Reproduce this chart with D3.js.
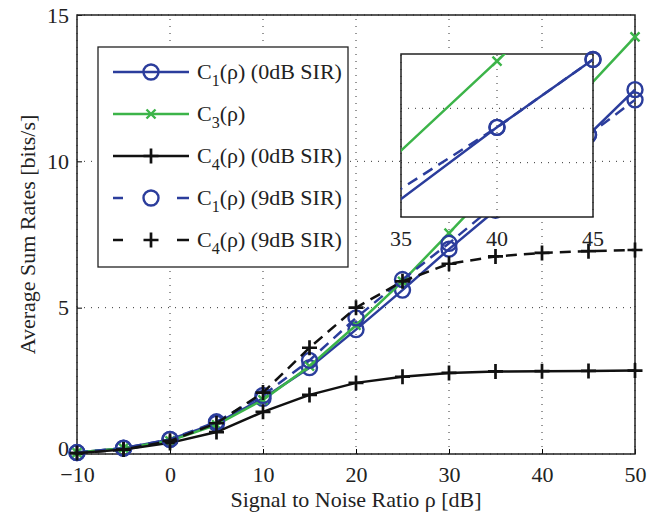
<!DOCTYPE html>
<html>
<head>
<meta charset="utf-8">
<script src="https://cdn.jsdelivr.net/npm/d3@7"></script>
<style>
  body { margin: 0; background: #fff; }
  svg { display: block; }
</style>
</head>
<body>
<script>
// SNR values in dB
const snr = [-10, -5, 0, 5, 10, 15, 20, 25, 30, 35, 40, 45, 50];

// sum rates
const c1_0dB = [0.05, 0.2, 0.5, 1.05, 1.9, 2.95, 4.25, 5.6, 7.0, 8.33, 9.65, 10.9, 12.45];
const c3     = [0.05, 0.2, 0.45, 1.0, 1.85, 3.0, 4.4, 5.9, 7.55, 9.22, 10.87, 12.55, 14.25];
const c4_0dB = [0.03, 0.15, 0.38, 0.75, 1.44, 2.02, 2.43, 2.64, 2.77, 2.82, 2.83, 2.84, 2.85];
const c1_9dB = [0.05, 0.2, 0.5, 1.1, 2.0, 3.2, 4.65, 5.96, 7.2, 8.52, 9.65, 10.9, 12.1];
const c4_9dB = [0.03, 0.15, 0.45, 1.05, 2.1, 3.63, 5.0, 5.9, 6.5, 6.75, 6.87, 6.93, 6.97];

const xTicks = [-10, 0, 10, 20, 30, 40, 50];
const yTicks = [0, 5, 10, 15];
const insetXTicks = [35, 40, 45];
const insetYTicks = [9, 10];

const blue = "#2b3d9c";
const green = "#3cb449";
const black = "#111";

const series = [
  { name: ["C", "1", "(\u03c1) (0dB SIR)"], values: c1_0dB, color: blue, dash: null, marker: "o" },
  { name: ["C", "3", "(\u03c1)"], values: c3, color: green, dash: null, marker: "x" },
  { name: ["C", "4", "(\u03c1) (0dB SIR)"], values: c4_0dB, color: black, dash: null, marker: "+" },
  { name: ["C", "1", "(\u03c1) (9dB SIR)"], values: c1_9dB, color: blue, dash: "11,7", marker: "o" },
  { name: ["C", "4", "(\u03c1) (9dB SIR)"], values: c4_9dB, color: black, dash: "11,7", marker: "+" }
];

const svgWidth = 657;
const svgHeight = 517;
const margin = { left: 77, right: 22, top: 15, bottom: 63 };
const fontSize = 22;
const serif = "'Liberation Serif', 'DejaVu Serif', serif";

const svg = d3.select("body").append("svg")
  .attr("width", svgWidth)
  .attr("height", svgHeight)
  .attr("font-family", serif);

const xScale = d3.scaleLinear().domain([-10, 50]).range([margin.left, svgWidth - margin.right]);
const yScale = d3.scaleLinear().domain([0, 15]).range([svgHeight - margin.bottom, margin.top]);

// draws a marker of the given kind at 0,0 of a group
function drawMarker(g, kind, color) {
  if (kind === "o") {
    g.append("circle").attr("r", 7.5).attr("fill", "none").attr("stroke", color).attr("stroke-width", 2.4);
  } else if (kind === "+") {
    g.append("path").attr("d", "M-7.5,0H7.5M0,-7.5V7.5").attr("stroke", color).attr("stroke-width", 2.7);
  } else {
    g.append("path").attr("d", "M-4.5,-4.5L4.5,4.5M-4.5,4.5L4.5,-4.5").attr("stroke", color).attr("stroke-width", 2.4);
  }
}

// plots all series into a group with given scales
// markers only where the point is inside the (open on the left) x range
function plotSeries(group, xs, ys, clipId) {
  const line = d3.line().x((d, i) => xs(snr[i])).y(d => ys(d));
  const [xMin, xMax] = xs.domain();
  const [yMin, yMax] = ys.domain();
  series.forEach(s => {
    group.append("path")
      .datum(s.values)
      .attr("clip-path", clipId ? "url(#" + clipId + ")" : null)
      .attr("d", line)
      .attr("fill", "none")
      .attr("stroke", s.color)
      .attr("stroke-width", 2.5)
      .attr("stroke-dasharray", s.dash);
    const marks = group.append("g");
    s.values.forEach((v, i) => {
      const x = snr[i];
      if (clipId && (x <= xMin || x > xMax || v < yMin || v > yMax)) return;
      const m = marks.append("g").attr("transform", "translate(" + xs(x) + "," + ys(v) + ")");
      drawMarker(m, s.marker, s.color);
    });
  });
}

function grid(group, xs, ys, xt, yt) {
  const [x0, x1] = xs.range();
  const [y0, y1] = ys.range();
  group.selectAll(null).data(xt).enter().append("line")
    .attr("x1", d => xs(d)).attr("x2", d => xs(d))
    .attr("y1", y0).attr("y2", y1)
    .attr("stroke", "#333").attr("stroke-width", 1).attr("stroke-dasharray", "1,6");
  group.selectAll(null).data(yt).enter().append("line")
    .attr("x1", x0).attr("x2", x1)
    .attr("y1", d => ys(d)).attr("y2", d => ys(d))
    .attr("stroke", "#333").attr("stroke-width", 1).attr("stroke-dasharray", "1,6");
}

// main grid
grid(svg.append("g"), xScale, yScale, xTicks, yTicks);

// axes, ticks pointing inward
const xAxis = d3.axisBottom(xScale).tickValues(xTicks).tickSizeInner(-5).tickSizeOuter(0).tickPadding(12)
  .tickFormat(d => d < 0 ? "\u2212" + Math.abs(d) : d);
const yAxis = d3.axisLeft(yScale).tickValues(yTicks).tickSizeInner(-5).tickSizeOuter(0).tickPadding(8);

svg.append("g")
  .attr("transform", "translate(0," + yScale(0) + ")")
  .call(xAxis)
  .call(g => g.select(".domain").remove())
  .call(g => g.selectAll("text").attr("font-size", fontSize).attr("fill", "#222").attr("font-family", serif));
svg.append("g")
  .attr("transform", "translate(" + xScale(-10) + ",0)")
  .call(yAxis)
  .call(g => g.select(".domain").remove())
  .call(g => g.selectAll("text").attr("font-size", fontSize).attr("fill", "#222").attr("font-family", serif))
  .call(g => g.selectAll(".tick text").filter(d => d === 0).attr("dy", "0.05em")); // "0" sits a bit higher

// box
svg.append("rect")
  .attr("x", xScale(-10)).attr("y", yScale(15))
  .attr("width", xScale(50) - xScale(-10)).attr("height", yScale(0) - yScale(15))
  .attr("fill", "none").attr("stroke", "#222").attr("stroke-width", 1.5);

// main data
plotSeries(svg.append("g"), xScale, yScale, null);

// axis titles
svg.append("text")
  .attr("x", (xScale(-10) + xScale(50)) / 2)
  .attr("y", 507)
  .attr("text-anchor", "middle")
  .attr("font-size", fontSize)
  .attr("fill", "#222")
  .text("Signal to Noise Ratio \u03c1 [dB]");
svg.append("text")
  .attr("transform", "translate(35," + yScale(7.5) + ") rotate(-90)")
  .attr("text-anchor", "middle")
  .attr("font-size", fontSize)
  .attr("fill", "#222")
  .text("Average Sum Rates [bits/s]");

// inset zoom
const ix = d3.scaleLinear().domain([35, 45]).range([401, 593]);
const iy = d3.scaleLinear().domain([8, 11]).range([217, 54]);
const inset = svg.append("g");
svg.append("defs").append("clipPath").attr("id", "insetClip")
  .append("rect").attr("x", 401).attr("y", 54).attr("width", 192).attr("height", 163);
inset.append("rect").attr("x", 401).attr("y", 54).attr("width", 192).attr("height", 163).attr("fill", "#fff");
grid(inset, ix, iy, insetXTicks, insetYTicks);
inset.append("rect").attr("x", 401).attr("y", 54).attr("width", 192).attr("height", 163)
  .attr("fill", "none").attr("stroke", "#222").attr("stroke-width", 1.5);
plotSeries(inset, ix, iy, "insetClip");
inset.selectAll(null).data(insetXTicks).enter().append("text")
  .attr("x", d => ix(d)).attr("y", 246)
  .attr("text-anchor", "middle").attr("font-size", fontSize).attr("fill", "#222")
  .attr("font-family", serif)
  .text(d => d);

// legend
const legend = svg.append("g");
legend.append("rect").attr("x", 98).attr("y", 47).attr("width", 250).attr("height", 220)
  .attr("fill", "#fff").attr("stroke", "#222").attr("stroke-width", 1.3);
series.forEach((s, i) => {
  const y = 72 + i * 42;
  legend.append("line").attr("x1", 113).attr("x2", 189).attr("y1", y).attr("y2", y)
    .attr("stroke", s.color).attr("stroke-width", 2.5).attr("stroke-dasharray", s.dash ? "10,54,12" : null);
  drawMarker(legend.append("g").attr("transform", "translate(151," + y + ")"), s.marker, s.color);
  const t = legend.append("text").attr("x", 197).attr("y", y + 7).attr("font-size", fontSize).attr("fill", "#222");
  t.append("tspan").text(s.name[0]);
  t.append("tspan").attr("dy", 7).attr("font-size", 16).text(s.name[1]);
  t.append("tspan").attr("dy", -7).text(s.name[2]);
});
</script>
</body>
</html>
